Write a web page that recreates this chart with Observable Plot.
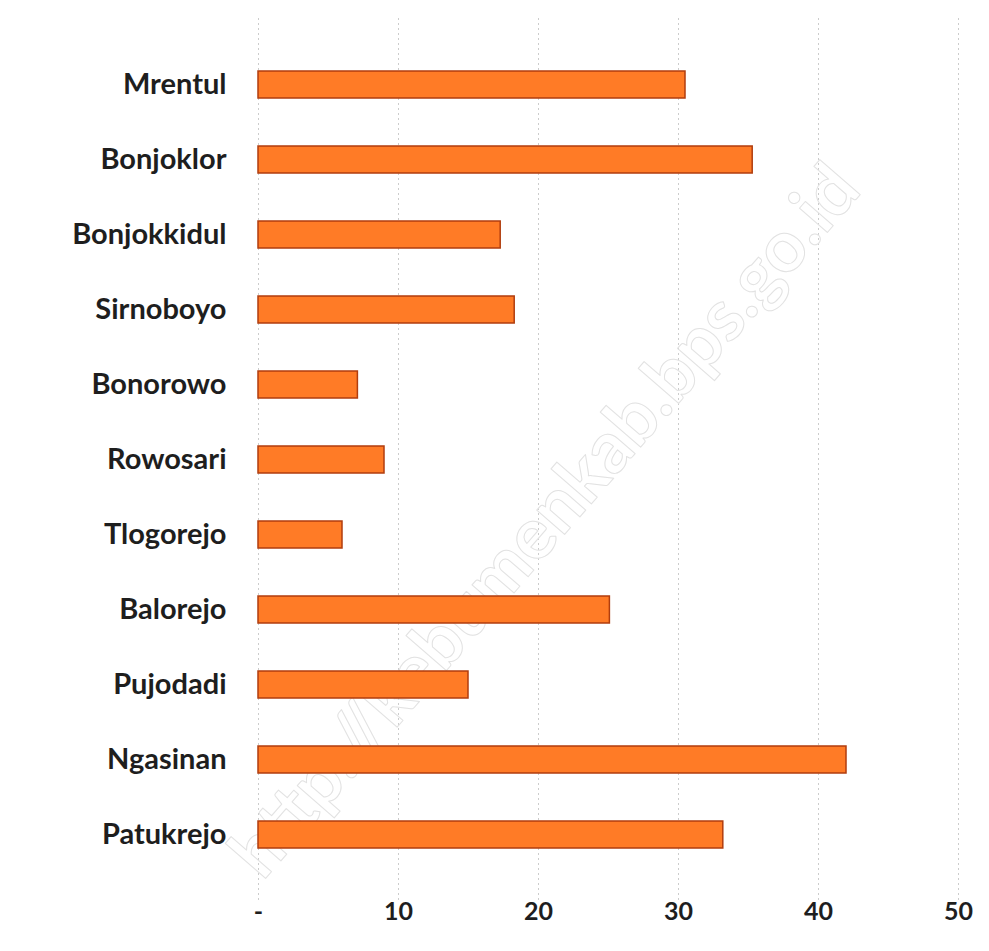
<!DOCTYPE html>
<html>
<head>
<meta charset="utf-8">
<script src="https://cdn.jsdelivr.net/npm/d3@7"></script>
<script src="https://cdn.jsdelivr.net/npm/@observablehq/plot@0.6"></script>
<style>
  html, body { margin: 0; padding: 0; background: #ffffff; }
  #chart svg { display: block; }
</style>
</head>
<body>
<div id="chart"></div>
<script>
const villages = ["Mrentul", "Bonjoklor", "Bonjokkidul", "Sirnoboyo", "Bonorowo", "Rowosari", "Tlogorejo", "Balorejo", "Pujodadi", "Ngasinan", "Patukrejo"];
const values = [30.5, 35.3, 17.3, 18.3, 7.1, 9.0, 6.0, 25.1, 15.0, 42.0, 33.2];
const xTicks = [0, 10, 20, 30, 40, 50];
const watermark = "http://kebumenkab.bps.go.id";

const data = villages.map((v, i) => ({village: v, value: values[i]}));

const chart = Plot.plot({
  width: 989,
  height: 951,
  marginLeft: 258,
  marginRight: 31,
  marginTop: 18,
  marginBottom: 51,
  style: {fontFamily: "Lato, 'Open Sans', sans-serif", background: "#ffffff"},
  x: {domain: [0, 50], ticks: xTicks, grid: false, label: null},
  y: {domain: villages, padding: 0.64, label: null},
  marks: [
    Plot.gridX(xTicks, {stroke: "#cccccc", strokeOpacity: 1, strokeDasharray: "2,3", strokeWidth: 1}),
    Plot.text([watermark], {frameAnchor: "middle", dx: -63, dy: 62, rotate: -49, fontSize: 72, fill: "none", stroke: "#e2e2e2", strokeWidth: 1, fontWeight: "bold"}),
    Plot.barX(data, {x: "value", y: "village", fill: "#ff7b26", stroke: "#b13d0e", strokeWidth: 1.5}),
    Plot.axisX(xTicks, {tickSize: 0, tickPadding: 2, fontSize: 25, fontWeight: "bold", fill: "#1e1e1e", tickFormat: d => d === 0 ? "-" : String(d)}),
    Plot.axisY({tickSize: 0, tickPadding: 32, fontSize: 29, fontWeight: "bold", fill: "#1e1e1e"})
  ]
});
document.getElementById("chart").appendChild(chart);
</script>
</body>
</html>
